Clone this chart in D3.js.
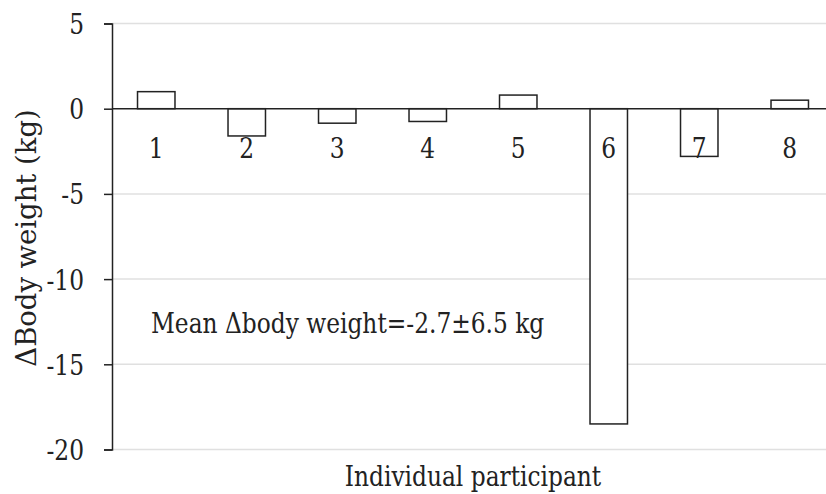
<!DOCTYPE html>
<html>
<head>
<meta charset="utf-8">
<script src="https://cdn.jsdelivr.net/npm/d3@7"></script>
<style>
	body { margin: 0; background: #fff; }
</style>
</head>
<body>
<div class="chart"></div>
<script>
var width = 826;
var height = 494;
var font = "'DejaVu Serif', serif";
var font_size = "28px";
var squeeze = 0.833;	// DejaVu Serif is wider than the Times face of the original

// participants and their change in body weight (kg)
var participants = ['1', '2', '3', '4', '5', '6', '7', '8'];
var delta_weight = [1.0, -1.6, -0.85, -0.75, 0.8, -18.5, -2.8, 0.5];
var y_ticks = [5, 0, -5, -10, -15, -20];

var chart_svg = d3.select(".chart")
	.append("svg")
	.attr("width", width)
	.attr("height", height);

var x = d3.scaleBand()
	.domain(participants)
	.range([111, 835])
	.paddingInner(0.586)
	.paddingOuter(0.293);

var y = d3.scaleLinear()
	.domain([-20, 5])
	.range([449.5, 23.5]);

// light gridlines
chart_svg.append("g")
	.selectAll("line")
	.data(y_ticks.filter(function(d) { return d !== 0; }))
	.enter()
	.append("line")
	.attr("x1", 112)
	.attr("x2", width)
	.attr("y1", function(d) { return y(d); })
	.attr("y2", function(d) { return y(d); })
	.attr("stroke", "#e0e0e0")
	.attr("stroke-width", 1.5);

// y axis
var y_axis = chart_svg.append("g")
	.attr("transform", "translate(112,0)")
	.call(d3.axisLeft(y).tickValues(y_ticks).tickSize(8)
		.tickFormat(function(d) { return String(d); }));
y_axis.attr("font-family", null).attr("font-size", null);
y_axis.select(".domain").attr("stroke", "#222").attr("stroke-width", 1.5);
y_axis.selectAll(".tick line").attr("stroke", "#222").attr("stroke-width", 1.5);
y_axis.selectAll(".tick text")
	.style("font-family", font)
	.style("font-size", font_size)
	.attr("fill", "#222")
	.attr("x", -28 / squeeze)
	.attr("dy", "0.36em")
	.attr("transform", "scale(" + squeeze + ",1)");

// bars
chart_svg.append("g")
	.selectAll("rect")
	.data(delta_weight)
	.enter()
	.append("rect")
	.attr("x", function(d, i) { return x(participants[i]); })
	.attr("y", function(d) { return y(Math.max(0, d)); })
	.attr("width", x.bandwidth())
	.attr("height", function(d) { return Math.abs(y(d) - y(0)); })
	.attr("fill", "#fff")
	.attr("stroke", "#222")
	.attr("stroke-width", 1.5);

// zero line
chart_svg.append("line")
	.attr("x1", 112)
	.attr("x2", width)
	.attr("y1", y(0))
	.attr("y2", y(0))
	.attr("stroke", "#222")
	.attr("stroke-width", 1.5);

function print(x, y, s, anchor, rotate, sx) {
	return chart_svg.append("text")
		.attr("transform", "translate(" + x + "," + y + ")" + (rotate ? " rotate(" + rotate + ")" : "") +
			" scale(" + (sx || squeeze) + ",1)")
		.attr("text-anchor", anchor)
		.attr("fill", "#222")
		.style("font-family", font)
		.style("font-size", font_size)
		.text(s);
}

// participant labels under the zero line
participants.forEach(function(d) {
	print(x(d) + x.bandwidth() / 2, y(0) + 49, d, "middle");
});

// axis titles
print(36, 238, "\u0394Body weight (kg)", "middle", -90, 0.98);
print(473, 486, "Individual participant", "middle");

// annotation
print(151, 333, "Mean \u0394body weight=-2.7\u00b16.5 kg", "start");
</script>
</body>
</html>
